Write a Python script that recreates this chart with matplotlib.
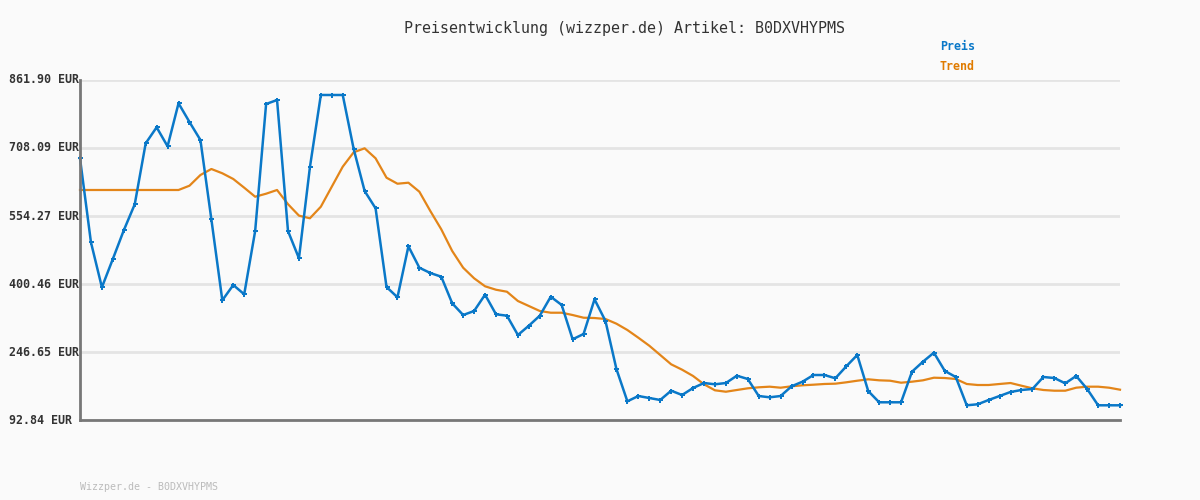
import matplotlib.pyplot as plt
from matplotlib.transforms import blended_transform_factory

# Preis pro Messpunkt (EUR)
preis = [684.8, 494.8, 393.0, 457.0, 521.9, 580.7, 718.7, 754.9, 711.9, 809.2,
         766.9, 726.2, 546.8, 363.6, 398.2, 377.2, 520.3, 807.6, 816.6, 520.3,
         458.6, 664.4, 828.0, 828.0, 828.0, 705.8, 610.8, 571.7, 393.7, 370.4,
         485.7, 437.3, 425.3, 417.0, 356.8, 330.3, 339.4, 376.3, 331.9, 328.8,
         285.1, 306.1, 328.8, 371.7, 353.0, 275.4, 287.4, 365.8, 316.8, 208.2,
         135.1, 147.1, 142.6, 138.1, 159.1, 149.4, 165.2, 176.5, 173.6, 176.5,
         193.0, 185.6, 147.1, 144.2, 147.1, 169.1, 179.5, 194.6, 194.6, 187.2,
         214.3, 239.9, 158.4, 132.9, 132.9, 132.9, 202.1, 224.7, 245.1, 203.7,
         190.1, 126.1, 128.4, 138.1, 147.1, 156.2, 160.7, 163.0, 190.1, 187.8,
         175.8, 192.4, 163.0, 126.1, 126.1, 126.1]

trend = [613.1, 613.1, 613.1, 613.1, 613.1, 613.1, 613.1, 613.1, 613.1, 613.1,
         622.8, 647.0, 660.6, 650.9, 638.0, 618.3, 597.9, 604.7, 613.1, 581.0,
         555.1, 549.1, 575.3, 620.6, 665.8, 698.4, 707.4, 684.8, 640.9, 627.3,
         629.6, 609.2, 565.6, 524.2, 475.1, 437.3, 413.4, 395.3, 387.5, 383.0,
         362.0, 350.7, 339.4, 335.5, 335.5, 330.3, 324.2, 323.5, 321.3, 310.7,
         296.4, 279.0, 260.9, 239.9, 218.8, 206.6, 192.4, 173.6, 160.0, 156.8,
         160.7, 164.5, 166.8, 168.2, 165.9, 169.1, 171.3, 172.7, 174.3, 175.0,
         178.1, 181.7, 184.9, 182.6, 181.7, 177.2, 179.5, 182.6, 188.5, 187.8,
         185.6, 174.3, 172.0, 172.0, 174.3, 176.5, 170.4, 164.5, 160.7, 159.1,
         159.1, 165.9, 168.2, 168.2, 165.9, 161.4]

y_ticks = [92.84, 246.65, 400.46, 554.27, 708.09, 861.90]

artikel = 'B0DXVHYPMS'

bg = '#fafafa'
blau = '#0a78c8'
orange = '#e38519'

fig = plt.figure(figsize=(12, 5), dpi=100, facecolor=bg)
ax = fig.add_axes([80 / 1200, 80 / 500, 1040 / 1200, 340 / 500])
ax.set_facecolor(bg)

x = list(range(len(preis)))
ax.plot(x, trend, color=orange, lw=1.6, zorder=3, clip_on=False)
ax.plot(x, preis, color=blau, lw=1.8, marker='P', markersize=3.6,
        markeredgewidth=0, zorder=4, clip_on=False)

ax.set_xlim(0, len(preis) - 1)
ax.set_ylim(y_ticks[0], y_ticks[-1])
ax.set_yticks(y_ticks)
ax.set_yticklabels([])
ax.set_xticks([])
ax.tick_params(length=0)
ax.grid(axis='y', color='#e4e4e4', lw=2, zorder=0)

for s in ['top', 'right']:
  ax.spines[s].set_visible(False)
for s in ['left', 'bottom']:
  ax.spines[s].set_color('#777777')
  ax.spines[s].set_linewidth(2)
  ax.spines[s].set_zorder(5)

trans = blended_transform_factory(fig.transFigure, ax.transData)
for v in y_ticks:
  ax.text(9 / 1200, v, f'{v:.2f} EUR', transform=trans, ha='left', va='center',
          family='DejaVu Sans Mono', fontsize=8.4, fontweight='bold', color='#333333')

fig.text(624 / 1200, 1 - 28 / 500, f'Preisentwicklung (wizzper.de) Artikel: {artikel}',
         ha='center', va='center', family='DejaVu Sans Mono', fontsize=10.8, color='#333333')
fig.text(940 / 1200, 1 - 47 / 500, 'Preis', ha='left', va='center',
         family='DejaVu Sans Mono', fontsize=8.4, fontweight='bold', color=blau)
fig.text(940 / 1200, 1 - 67 / 500, 'Trend', ha='left', va='center',
         family='DejaVu Sans Mono', fontsize=8.4, fontweight='bold', color='#e07b00')
fig.text(80 / 1200, 1 - 487 / 500, f'Wizzper.de - {artikel}', ha='left', va='center',
         family='DejaVu Sans Mono', fontsize=7.2, color='#bbbbbb')

fig.savefig('out.png', dpi=100, facecolor=bg)
